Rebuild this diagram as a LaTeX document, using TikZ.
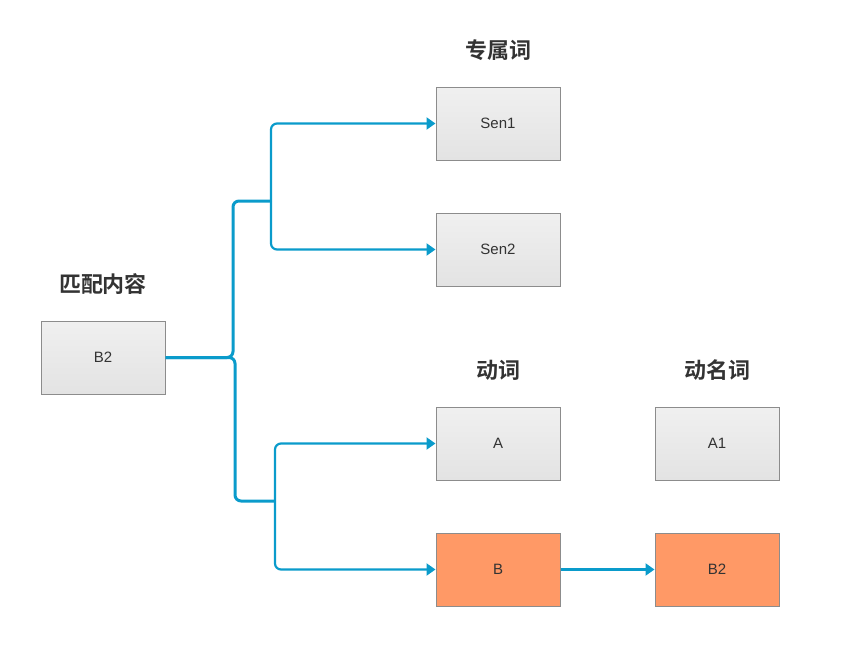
\documentclass[tikz,border=0pt]{standalone}
\usepackage{fontspec}
\setmainfont{Liberation Sans}
\newfontfamily\cjk{Noto Sans CJK SC}[BoldFont={Noto Sans CJK SC Bold}]
\usetikzlibrary{arrows.meta}
\definecolor{linec}{HTML}{0A9BCB}
\definecolor{boxline}{HTML}{8C8C8C}
\definecolor{orangef}{HTML}{FF9966}
\definecolor{txt}{HTML}{333333}
\begin{document}
\begin{tikzpicture}[x=1pt,y=-1pt,
  gbox/.style={draw=boxline,line width=1pt,minimum width=124pt,minimum height=73pt,inner sep=0pt,top color=white!94!black,bottom color=white!89!black,font=\fontsize{15pt}{18pt}\selectfont,text=txt},
  obox/.style={draw=boxline,line width=1pt,minimum width=124pt,minimum height=73pt,inner sep=0pt,fill=orangef,font=\fontsize{15pt}{18pt}\selectfont,text=txt},
  title/.style={font=\cjk\bfseries\fontsize{22pt}{26pt}\selectfont,text=txt},
  trunk/.style={draw=linec,line width=3pt,rounded corners=6pt},
  branch/.style={draw=linec,line width=2.2pt,rounded corners=6pt,-{Triangle[length=9pt,width=12pt]}},
]
\useasboundingbox (0,0) rectangle (863,651);
\node[gbox] (src) at (103,357.5) {B2};
\node[gbox] (sen1) at (498,123.5) {Sen1};
\node[gbox] (sen2) at (498,249.5) {Sen2};
\node[gbox] (a) at (498,443.5) {A};
\node[obox] (b) at (498,569.5) {B};
\node[gbox] (a1) at (717,443.5) {A1};
\node[obox] (b2) at (717,569.5) {B2};

\node[title] (t1) at (498,50) {专属词};
\node[title] (t2) at (103,284) {匹配内容};
\node[title] (t3) at (498,370) {动词};
\node[title] (t4) at (717,370) {动名词};

\coordinate (j1) at (271,201);
\coordinate (j2) at (275,501);

\draw[trunk] (src.east) -- (233,357.5) -- (233,201) -- (j1);
\draw[trunk] (src.east) -- (235,357.5) -- (235,501) -- (j2);
\draw[branch] (j1) -- (271,123.5) -- (sen1.west);
\draw[branch] (j1) -- (271,249.5) -- (sen2.west);
\draw[branch] (j2) -- (275,443.5) -- (a.west);
\draw[branch] (j2) -- (275,569.5) -- (b.west);
\draw[branch,line width=2.4pt] (b.east) -- (b2.west);
\end{tikzpicture}
\end{document}
